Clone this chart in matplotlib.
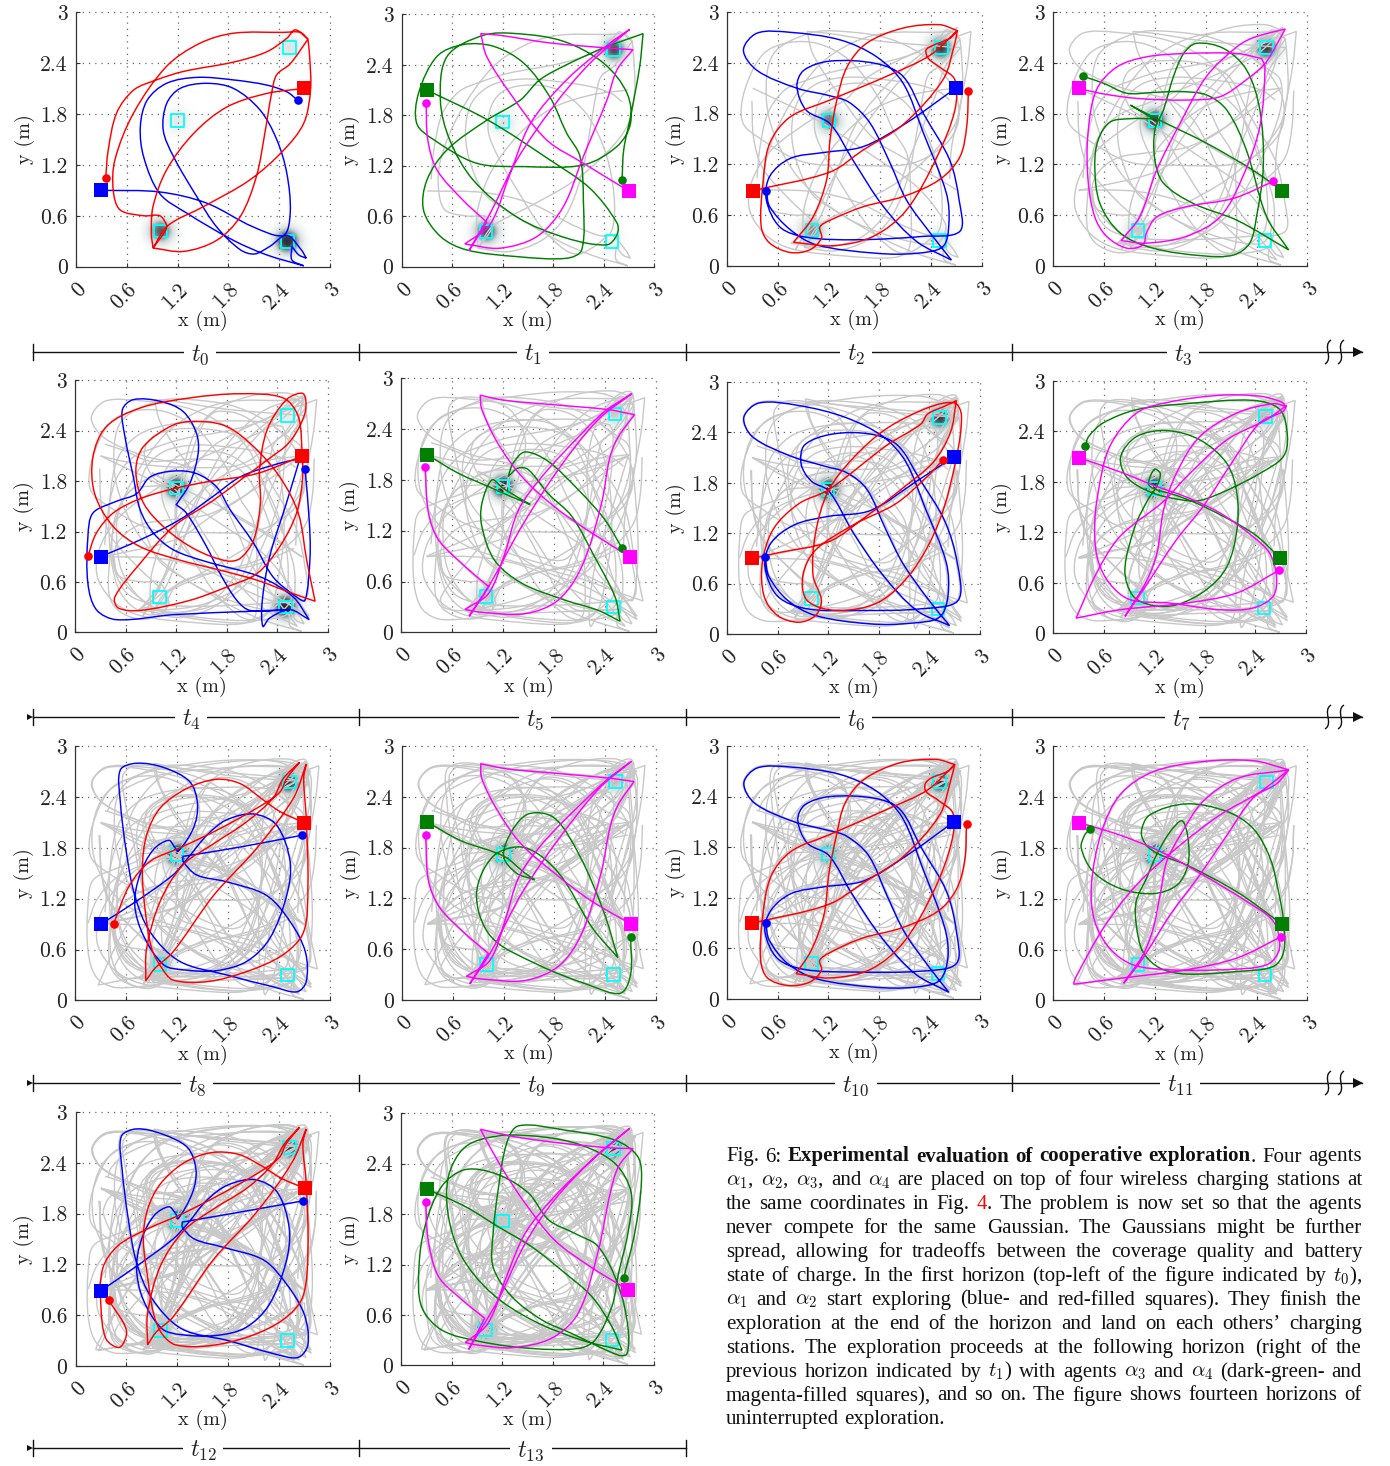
"""
Fourteen exploration horizons, two agents per horizon. Earlier flights stay on
as grey curves, the stations show their remaining Gaussians. Caption on the right.
"""

import numpy as np
import matplotlib
matplotlib.use("Agg")
import matplotlib.pyplot as plt
from matplotlib.colors import LinearSegmentedColormap
from matplotlib.patches import PathPatch
from matplotlib.path import Path

plt.rcParams["mathtext.fontset"] = "cm"

W_PX, H_PX = 1390, 1466

# -- Flight paths in metres. A repeated point is a cusp ---
BLUE_T0 = [(0.30,0.90),(0.99,0.88),(1.54,0.75),(2.09,0.47),(2.45,0.37),(2.53,0.63),(2.49,1.10),(2.37,1.50),
           (2.17,1.85),(1.86,2.10),(1.54,2.16),(1.23,2.10),(1.07,1.92),(1.03,1.61),(1.15,1.30),(1.43,0.82),
           (1.66,0.47),(1.94,0.20),(2.11,0.15),(2.29,0.24),(2.49,0.37),(2.66,0.20),(2.72,0.10),(2.72,0.10),
           (2.63,0.14),(2.55,0.24),(2.55,0.24),(2.55,0.08),(2.69,0.01),(2.69,0.01),(2.25,0.14),(1.86,0.31),
           (1.31,0.63),(0.99,0.86),(0.80,1.29),(0.76,1.65),(0.84,1.96),(1.07,2.16),(1.43,2.23),(1.86,2.20),
           (2.25,2.14),(2.49,2.06),(2.62,1.96)]
RED_T0 = [(2.69,2.10),(2.25,2.04),(1.78,1.88),(1.39,1.57),(1.07,1.14),(0.91,0.71),(0.89,0.39),(0.91,0.22),
          (0.91,0.22),(1.08,0.48),(1.51,0.71),(2.05,1.02),(2.45,1.37),(2.69,1.69),(2.77,2.08),(2.76,2.47),
          (2.74,2.68),(2.74,2.68),(2.53,2.39),(2.37,2.26),(2.31,2.04),(2.23,1.57),(2.13,1.06),(1.94,0.59),
          (1.66,0.31),(1.27,0.18),(0.91,0.22),(0.91,0.22),(1.06,0.43),(1.07,0.49),(0.99,0.60),(0.80,0.60),
          (0.52,0.67),(0.44,0.90),(0.46,1.26),(0.68,1.81),(1.07,2.36),(1.46,2.63),(1.86,2.75),(2.45,2.76),
          (2.65,2.76),(2.74,2.68),(2.74,2.68),(2.59,2.79),(2.49,2.69),(2.25,2.53),(1.86,2.41),(1.27,2.30),
          (0.95,2.20),(0.68,2.08),(0.48,1.81),(0.38,1.37),(0.35,1.04)]

GREEN_T1 = [(0.30,2.10),(1.03,1.74),(1.76,1.27),(2.24,0.93),(2.56,0.52),(2.56,0.38),(2.44,0.26),(1.96,0.34),
            (1.37,0.59),(0.85,1.03),(0.57,1.51),(0.46,1.98),(0.54,2.50),(0.97,2.75),(1.37,2.77),(1.92,2.68),
            (2.40,2.42),(2.68,2.06),(2.72,1.70),(2.56,1.43),(2.16,1.21),(1.45,1.19),(0.89,1.23),(0.38,1.51),
            (0.18,1.70),(0.20,2.06),(0.42,2.50),(0.73,2.64),(1.09,2.62),(1.45,2.42),(1.76,2.02),(1.96,1.59),
            (2.12,1.31),(2.16,0.79),(2.14,0.20),(1.96,0.10),(1.37,0.12),(0.77,0.20),(0.46,0.36),(0.26,0.67),
            (0.30,1.03),(0.54,1.39),(1.01,1.74),(1.41,1.98),(1.64,2.22),(1.96,2.40),(2.40,2.60),(2.87,2.77),
            (2.87,2.77),(2.83,2.38),(2.72,1.78),(2.64,1.39),(2.62,1.03)]
MAGENTA_T1 = [(2.70,0.90),(2.16,1.23),(1.72,1.51),(1.29,2.06),(1.01,2.50),(0.94,2.77),(0.94,2.77),(1.17,2.75),
              (1.76,2.66),(2.44,2.60),(2.75,2.58),(2.75,2.58),(2.56,2.34),(2.44,1.98),(2.16,1.31),(1.92,0.71),
              (1.61,0.36),(1.17,0.22),(0.75,0.27),(0.75,0.27),(1.05,0.50),(1.29,1.11),(1.53,1.70),(1.96,2.22),
              (2.48,2.66),(2.71,2.82),(2.71,2.82),(2.24,2.42),(1.80,1.90),(1.37,1.27),(1.05,0.63),(0.80,0.19),
              (0.80,0.19),(1.01,0.53),(1.01,0.53),(0.73,0.79),(0.42,1.15),(0.31,1.51),(0.29,1.95)]

BLUE_T2 = [(2.69,2.10),(2.11,1.69),(1.60,1.41),(1.13,1.34),(0.74,1.27),(0.50,1.06),(0.46,0.78),(0.62,0.46),
           (0.93,0.34),(1.52,0.31),(2.31,0.35),(2.74,0.41),(2.73,0.78),(2.62,1.25),(2.31,1.80),(2.07,2.24),
           (1.76,2.39),(1.21,2.42),(0.90,2.31),(0.82,2.12),(0.93,1.84),(1.21,1.68),(1.48,1.25),(1.84,0.70),
           (2.23,0.29),(2.64,0.07),(2.64,0.07),(2.39,0.39),(2.11,0.78),(1.92,1.21),(1.68,1.69),(1.44,1.93),
           (1.21,2.01),(0.82,2.10),(0.35,2.31),(0.19,2.55),(0.35,2.75),(0.74,2.76),(1.33,2.67),(1.76,2.47),
           (2.07,2.16),(2.31,1.57),(2.58,0.86),(2.61,0.50),(2.54,0.23),(2.23,0.15),(1.76,0.15),(1.05,0.25),
           (0.74,0.43),(0.50,0.70),(0.46,0.89)]
RED_T2 = [(0.30,0.89),(1.21,1.11),(1.60,1.37),(2.07,1.67),(2.54,2.20),(2.68,2.63),(2.71,2.78),(2.71,2.78),
          (2.50,2.85),(2.07,2.81),(1.64,2.63),(1.41,2.35),(1.29,1.96),(1.21,1.49),(1.17,1.02),(1.01,0.58),
          (0.78,0.28),(0.78,0.28),(1.25,0.24),(1.72,0.35),(2.11,0.66),(2.47,1.29),(2.68,1.84),(2.68,2.20),
          (2.50,2.35),(2.37,2.45),(2.34,2.55),(2.41,2.60),(2.62,2.69),(2.71,2.78),(2.71,2.78),(2.39,2.49),
          (1.92,2.26),(1.21,1.96),(0.74,1.76),(0.50,1.45),(0.42,0.98),(0.40,0.46),(0.50,0.27),(0.74,0.16),
          (0.97,0.19),(1.11,0.33),(1.09,0.46),(1.21,0.54),(1.60,0.70),(2.07,0.82),(2.50,1.02),(2.74,1.29),
          (2.82,1.65),(2.84,2.07)]

GREEN_T3 = [(2.70,0.89),(2.36,1.13),(1.81,1.45),(1.24,1.73),(0.91,1.90),(0.91,1.90),(1.18,1.74),(1.18,1.74),
            (0.91,1.74),(0.67,1.70),(0.53,1.49),(0.49,1.18),(0.55,0.74),(0.79,0.39),(1.18,0.21),(1.77,0.12),
            (2.13,0.13),(2.32,0.27),(2.40,0.58),(2.48,1.17),(2.44,1.84),(2.28,2.32),(2.01,2.57),(1.69,2.63),
            (1.54,2.51),(1.42,2.24),(1.30,1.84),(1.20,1.61),(1.20,1.25),(1.30,0.98),(1.65,0.74),(2.17,0.54),
            (2.78,0.19),(2.78,0.19),(2.52,0.58),(2.28,1.37),(2.05,1.84),(1.81,2.02),(1.50,2.06),(1.18,2.05),
            (0.87,2.04),(0.59,2.16),(0.35,2.24)]
MAGENTA_T3 = [(0.30,2.10),(0.55,2.04),(0.98,1.98),(1.57,1.96),(1.97,2.00),(2.28,2.20),(2.50,2.39),(2.64,2.62),
              (2.74,2.80),(2.74,2.80),(2.37,2.70),(2.17,2.59),(1.81,2.24),(1.50,1.69),(1.22,1.13),(1.02,0.58),
              (0.80,0.30),(0.80,0.30),(1.10,0.27),(1.57,0.35),(1.97,0.58),(2.24,1.06),(2.44,1.65),(2.50,2.35),
              (2.46,2.45),(2.46,2.45),(2.17,2.51),(1.57,2.51),(1.10,2.47),(0.75,2.35),(0.51,2.08),(0.41,1.57),
              (0.41,1.02),(0.49,0.58),(0.63,0.35),(0.87,0.21),(1.06,0.25),(1.10,0.39),(1.22,0.58),(1.57,0.70),
              (2.13,0.80),(2.60,1.00)]

BLUE_T4 = [(0.30,0.90),(0.77,1.10),(1.24,1.34),(1.64,1.62),(1.96,1.85),(2.35,1.99),(2.67,2.07),(2.67,2.07),
           (2.51,1.54),(2.31,0.90),(2.22,0.35),(2.23,0.07),(2.31,0.17),(2.55,0.27),(2.78,0.15),(2.78,0.15),
           (2.59,0.42),(2.20,0.66),(1.56,0.84),(1.17,0.98),(0.93,1.18),(0.77,1.46),(0.69,1.85),(0.59,2.33),
           (0.56,2.65),(0.69,2.77),(1.01,2.75),(1.28,2.63),(1.44,2.37),(1.46,2.13),(1.36,1.77),(1.20,1.52),
           (1.20,1.52),(1.32,1.42),(1.56,1.02),(1.72,0.70),(1.92,0.38),(2.08,0.26),(2.55,0.27),(2.55,0.27),
           (2.08,0.25),(1.17,0.21),(0.49,0.15),(0.25,0.27),(0.15,0.58),(0.15,1.14),(0.21,1.42),(0.49,1.56),
           (0.73,1.65),(0.89,1.85),(1.17,1.92),(1.44,1.89),(1.68,1.73),(1.84,1.46),(2.12,1.06),(2.35,0.66),
           (2.63,0.42),(2.73,0.38),(2.79,0.90),(2.78,1.34),(2.73,1.95)]
RED_T4 = [(2.70,2.10),(2.70,1.81),(2.63,1.42),(2.43,1.02),(2.16,0.70),(1.80,0.54),(1.36,0.38),(0.77,0.26),
          (0.51,0.29),(0.47,0.42),(0.77,0.82),(1.17,1.26),(1.64,1.57),(1.96,1.81),(2.28,2.05),(2.55,2.27),
          (2.73,2.61),(2.71,2.84),(2.51,2.77),(2.28,2.41),(2.19,1.93),(2.20,1.54),(2.12,1.10),(1.96,0.88),
          (1.80,0.85),(1.44,0.98),(1.09,1.22),(0.81,1.54),(0.72,1.93),(0.81,2.21),(1.17,2.47),(1.48,2.51),
          (1.80,2.45),(2.12,2.21),(2.43,1.85),(2.65,1.42),(2.75,0.86),(2.85,0.37),(2.85,0.37),(2.59,0.46),
          (2.16,0.62),(1.72,0.74),(1.24,0.86),(0.77,1.02),(0.45,1.26),(0.23,1.65),(0.21,2.09),(0.37,2.45),
          (0.77,2.67),(1.36,2.79),(1.96,2.84),(2.47,2.79),(2.65,2.57),(2.70,2.10),(2.70,2.10),(2.16,1.89),
          (1.56,1.79),(1.17,1.71),(0.77,1.59),(0.45,1.42),(0.25,1.18),(0.15,0.91)]

GREEN_T5 = [(0.30,2.10),(0.67,1.88),(1.03,1.72),(1.30,1.60),(1.52,1.51),(1.52,1.51),(1.20,1.70),(1.07,1.80),
            (0.95,1.52),(0.95,1.25),(1.10,0.85),(1.42,0.58),(1.93,0.38),(2.32,0.26),(2.58,0.13),(2.58,0.13),
            (2.52,0.42),(2.28,0.89),(2.01,1.37),(1.73,1.64),(1.50,1.92),(1.38,1.94),(1.26,1.84),(1.26,1.84),
            (1.32,2.00),(1.46,2.13),(1.73,2.02),(2.09,1.68),(2.40,1.33),(2.60,1.00)]
MAGENTA_T5 = [(2.70,0.89),(2.25,1.17),(1.81,1.48),(1.42,1.84),(1.14,2.23),(0.95,2.63),(0.93,2.80),(0.93,2.80),
              (1.22,2.74),(1.77,2.69),(2.44,2.63),(2.75,2.57),(2.75,2.57),(2.56,2.31),(2.46,2.07),(2.36,1.52),
              (2.13,0.78),(1.85,0.38),(1.46,0.22),(0.91,0.24),(0.75,0.27),(0.75,0.27),(1.03,0.46),(1.22,0.93),
              (1.38,1.44),(1.66,1.84),(2.13,2.35),(2.40,2.61),(2.72,2.82),(2.72,2.82),(2.32,2.51),(1.85,1.92),
              (1.42,1.25),(1.03,0.54),(0.80,0.19),(0.80,0.19),(1.03,0.54),(1.03,0.54),(0.75,0.78),(0.44,1.09),
              (0.32,1.41),(0.28,1.95)]

BLUE_T6 = [(2.69,2.11),(2.25,1.82),(1.70,1.47),(1.20,1.40),(0.80,1.30),(0.52,1.08),(0.45,0.80),(0.60,0.45),
           (0.95,0.30),(1.60,0.28),(2.30,0.30),(2.74,0.40),(2.73,0.85),(2.58,1.35),(2.28,1.85),(2.02,2.25),
           (1.70,2.38),(1.25,2.38),(0.92,2.25),(0.88,2.02),(1.00,1.82),(1.21,1.70),(1.50,1.20),(1.85,0.70),
           (2.25,0.28),(2.64,0.10),(2.64,0.10),(2.38,0.42),(2.08,0.85),(1.88,1.25),(1.66,1.72),(1.42,1.92),
           (1.15,2.00),(0.75,2.12),(0.30,2.35),(0.20,2.58),(0.38,2.75),(0.85,2.72),(1.40,2.58),(1.85,2.35),
           (2.12,2.05),(2.35,1.50),(2.60,0.85),(2.62,0.45),(2.52,0.20),(2.20,0.13),(1.70,0.12),(1.05,0.22),
           (0.72,0.40),(0.50,0.68),(0.45,0.92)]
RED_T6 = [(0.30,0.90),(0.62,0.97),(1.21,1.10),(1.65,1.40),(2.10,1.75),(2.45,2.05),(2.65,2.40),(2.72,2.78),
          (2.72,2.78),(2.60,2.72),(2.38,2.62),(2.30,2.50),(1.90,2.25),(1.21,1.72),(0.85,1.55),(0.55,1.25),
          (0.42,0.85),(0.44,0.45),(0.60,0.22),(0.85,0.14),(1.05,0.22),(1.12,0.40),(1.02,0.70),(1.05,1.20),
          (1.20,1.70),(1.50,2.10),(1.90,2.45),(2.40,2.70),(2.70,2.75),(2.78,2.60),(2.72,2.10),(2.52,1.35),
          (2.20,0.75),(1.80,0.38),(1.30,0.28),(0.95,0.40),(0.90,0.70),(1.05,1.00),(1.50,1.30),(2.00,1.55),
          (2.35,1.85),(2.56,2.07)]

GREEN_T7 = [(2.69,0.90),(2.37,1.19),(1.78,1.51),(1.46,1.64),(1.19,1.72),(1.13,1.78),(1.20,1.95),(1.27,1.90),
            (1.23,1.75),(1.13,1.60),(0.97,1.27),(0.85,0.75),(0.95,0.44),(1.19,0.33),(1.47,0.34),(1.82,0.52),
            (2.06,0.79),(2.18,1.23),(2.18,1.66),(2.06,2.02),(1.74,2.30),(1.35,2.41),(0.99,2.34),(0.80,2.10),
            (0.87,1.86),(1.15,1.68),(1.50,1.59),(1.74,1.58),(2.06,1.70),(2.45,1.90),(2.73,2.10),(2.78,2.34),
            (2.69,2.66),(2.37,2.77),(1.58,2.73),(0.99,2.66),(0.59,2.50),(0.42,2.34),(0.38,2.23)]
MAGENTA_T7 = [(0.30,2.09),(0.79,1.92),(1.19,1.76),(1.58,1.62),(1.98,1.43),(2.37,1.15),(2.57,0.95),(2.65,0.67),
              (2.61,0.44),(2.37,0.30),(1.98,0.28),(1.38,0.36),(0.91,0.40),(0.67,0.59),(0.53,0.87),(0.49,1.23),
              (0.53,1.66),(0.67,2.22),(0.99,2.62),(1.38,2.75),(1.98,2.83),(2.45,2.82),(2.71,2.75),(2.76,2.70),
              (2.76,2.70),(2.61,2.73),(2.18,2.62),(1.74,2.34),(1.46,1.90),(1.31,1.47),(1.23,0.95),(1.11,0.63),
              (0.85,0.20),(0.85,0.20),(1.07,0.52),(1.46,1.11),(1.78,1.51),(2.14,2.06),(2.45,2.50),(2.73,2.64),
              (2.77,2.71),(2.77,2.71),(2.53,2.54),(2.06,2.30),(1.58,1.86),(1.31,1.57),(0.79,1.15),(0.51,0.71),
              (0.27,0.18),(0.27,0.18),(0.79,0.28),(1.58,0.36),(2.18,0.48),(2.68,0.75)]

BLUE_T8 = [(0.30,0.90),(0.72,1.17),(1.15,1.48),(1.31,1.66),(1.55,1.95),(1.78,2.13),(2.10,2.20),(2.37,2.07),
           (2.53,1.64),(2.49,1.24),(2.29,0.73),(2.02,0.46),(1.66,0.35),(1.27,0.36),(1.04,0.42),(0.80,0.77),
           (0.70,1.13),(0.76,1.48),(0.92,1.78),(1.10,1.89),(1.17,1.81),(1.21,1.76),(1.39,2.03),(1.44,2.31),
           (1.35,2.58),(1.04,2.75),(0.72,2.80),(0.53,2.72),(0.53,2.35),(0.60,1.76),(0.70,1.24),(0.88,0.81),
           (1.23,0.46),(1.78,0.30),(2.33,0.16),(2.61,0.10),(2.72,0.22),(2.71,0.57),(2.53,0.93),(2.25,1.24),
           (1.78,1.40),(1.43,1.48),(1.27,1.64),(1.27,1.70),(1.27,1.70),(1.94,1.81),(2.67,1.95)]
RED_T8 = [(2.69,2.10),(2.41,2.23),(2.21,2.37),(1.94,2.56),(1.66,2.61),(1.31,2.50),(1.00,2.27),(0.84,1.95),
          (0.79,1.56),(0.82,1.09),(0.90,0.61),(1.02,0.38),(1.15,0.24),(1.55,0.22),(2.02,0.34),(2.45,0.54),
          (2.69,0.81),(2.74,1.36),(2.72,2.15),(2.69,2.62),(2.72,2.79),(2.72,2.79),(2.57,2.39),(2.14,1.80),
          (1.63,1.24),(1.15,0.57),(0.94,0.38),(0.83,0.23),(0.83,0.23),(0.84,0.61),(1.00,1.17),(1.27,1.60),
          (1.63,1.85),(2.02,2.11),(2.33,2.39),(2.45,2.62),(2.64,2.81),(2.64,2.81),(2.49,2.62),(2.41,2.46),
          (2.14,2.27),(1.63,1.99),(1.23,1.80),(0.88,1.64),(0.64,1.36),(0.45,0.90)]

GREEN_T9 = [(0.30,2.10),(0.70,1.88),(1.20,1.70),(1.45,1.50),(1.57,1.42),(1.57,1.42),(1.35,1.50),(1.20,1.70),
            (1.30,2.00),(1.50,2.20),(1.80,2.15),(2.10,1.70),(2.38,1.05),(2.55,0.50),(2.55,0.50),(2.25,0.85),
            (1.85,1.50),(1.45,1.80),(1.08,1.70),(0.88,1.25),(1.05,0.75),(1.60,0.42),(2.20,0.18),(2.58,0.08),
            (2.70,0.30),(2.70,0.75)]
MAGENTA_T9 = [(2.70,0.90),(2.22,1.18),(1.80,1.50),(1.40,1.85),(1.12,2.25),(0.94,2.62),(0.93,2.79),(0.93,2.79),
              (1.24,2.73),(1.78,2.68),(2.45,2.62),(2.74,2.58),(2.74,2.58),(2.55,2.30),(2.46,2.05),(2.35,1.50),
              (2.12,0.78),(1.85,0.40),(1.45,0.23),(0.92,0.25),(0.76,0.28),(0.76,0.28),(1.04,0.47),(1.22,0.95),
              (1.38,1.45),(1.66,1.85),(2.13,2.33),(2.42,2.60),(2.71,2.82),(2.71,2.82),(2.33,2.50),(1.85,1.90),
              (1.42,1.27),(1.04,0.55),(0.80,0.19),(0.80,0.19),(1.02,0.55),(1.02,0.55),(0.74,0.79),(0.44,1.10),
              (0.31,1.42),(0.28,1.95)]

BLUE_T10 = [(2.69,2.10),(2.13,1.70),(1.62,1.40),(1.15,1.33),(0.76,1.25),(0.52,1.05),(0.45,0.80),(0.60,0.48),
            (0.92,0.35),(1.50,0.32),(2.30,0.33),(2.72,0.42),(2.72,0.80),(2.60,1.28),(2.30,1.80),(2.05,2.25),
            (1.75,2.38),(1.22,2.40),(0.92,2.30),(0.84,2.12),(0.95,1.85),(1.21,1.70),(1.48,1.25),(1.84,0.72),
            (2.23,0.30),(2.63,0.08),(2.63,0.08),(2.38,0.40),(2.10,0.80),(1.90,1.22),(1.68,1.70),(1.42,1.93),
            (1.20,2.00),(0.80,2.10),(0.33,2.32),(0.20,2.56),(0.36,2.74),(0.76,2.75),(1.35,2.66),(1.78,2.46),
            (2.08,2.15),(2.32,1.55),(2.58,0.85),(2.62,0.50),(2.52,0.22),(2.22,0.14),(1.75,0.14),(1.06,0.24),
            (0.72,0.42),(0.50,0.70),(0.46,0.90)]
RED_T10 = [(0.30,0.90),(1.20,1.12),(1.62,1.38),(2.08,1.68),(2.52,2.18),(2.66,2.62),(2.70,2.78),(2.70,2.78),
           (2.48,2.84),(2.05,2.80),(1.62,2.60),(1.40,2.32),(1.30,1.95),(1.21,1.50),(1.15,1.00),(1.00,0.58),
           (0.82,0.30),(0.82,0.30),(1.22,0.25),(1.70,0.35),(2.10,0.68),(2.46,1.30),(2.66,1.85),(2.68,2.20),
           (2.50,2.36),(2.36,2.46),(2.35,2.55),(2.42,2.62),(2.62,2.70),(2.70,2.78),(2.70,2.78),(2.38,2.48),
           (1.90,2.25),(1.22,1.95),(0.76,1.75),(0.52,1.45),(0.42,0.95),(0.40,0.45),(0.48,0.25),(0.72,0.16),
           (0.98,0.20),(1.12,0.34),(1.10,0.46),(1.22,0.55),(1.60,0.72),(2.06,0.84),(2.50,1.04),(2.72,1.30),
           (2.82,1.65),(2.84,2.07)]

GREEN_T11 = [(2.70,0.90),(2.17,1.28),(1.57,1.60),(1.26,1.72),(1.10,1.83),(1.04,1.99),(1.14,2.19),(1.57,2.32),
             (2.05,2.23),(2.36,2.03),(2.56,1.68),(2.66,1.28),(2.72,0.93),(2.72,0.57),(2.60,0.40),(2.17,0.34),
             (1.57,0.31),(1.26,0.38),(1.06,0.57),(0.98,0.89),(0.98,1.17),(1.10,1.44),(1.22,1.72),(1.38,1.99),
             (1.52,2.12),(1.59,1.92),(1.59,1.60),(1.46,1.36),(1.18,1.26),(0.79,1.32),(0.47,1.52),(0.33,1.80),
             (0.37,1.95),(0.43,2.02)]
MAGENTA_T11 = [(0.30,2.10),(0.79,1.95),(1.26,1.76),(1.77,1.48),(2.28,1.17),(2.60,0.93),(2.67,0.61),(2.52,0.42),
               (1.97,0.36),(1.38,0.36),(0.94,0.42),(0.67,0.61),(0.49,0.93),(0.45,1.36),(0.57,1.99),(0.79,2.43),
               (1.18,2.70),(1.77,2.82),(2.36,2.83),(2.72,2.74),(2.78,2.72),(2.78,2.72),(2.17,2.62),(1.77,2.35),
               (1.50,1.95),(1.34,1.64),(1.26,1.24),(1.18,0.85),(1.06,0.54),(0.83,0.20),(0.83,0.20),(1.06,0.50),
               (1.38,1.01),(1.73,1.48),(2.05,1.95),(2.36,2.39),(2.64,2.56),(2.78,2.72),(2.78,2.72),(2.44,2.46),
               (1.97,2.19),(1.46,1.80),(0.98,1.36),(0.59,0.85),(0.26,0.26),(0.24,0.19),(0.24,0.19),(0.79,0.26),
               (1.57,0.36),(2.17,0.50),(2.69,0.75)]

BLUE_T12 = [(0.30,0.89),(0.72,1.18),(1.15,1.50),(1.32,1.68),(1.55,1.96),(1.80,2.14),(2.12,2.20),(2.38,2.05),
            (2.52,1.62),(2.48,1.22),(2.28,0.72),(2.00,0.45),(1.65,0.36),(1.25,0.37),(1.02,0.44),(0.80,0.78),
            (0.72,1.15),(0.78,1.50),(0.93,1.78),(1.10,1.88),(1.18,1.80),(1.21,1.74),(1.38,2.05),(1.42,2.32),
            (1.32,2.58),(1.02,2.74),(0.72,2.80),(0.54,2.71),(0.55,2.32),(0.62,1.75),(0.72,1.22),(0.90,0.80),
            (1.25,0.44),(1.80,0.30),(2.32,0.15),(2.62,0.10),(2.74,0.25),(2.70,0.60),(2.50,0.95),(2.22,1.25),
            (1.75,1.40),(1.40,1.50),(1.26,1.64),(1.26,1.70),(1.26,1.70),(1.95,1.82),(2.68,1.95)]
RED_T12 = [(2.70,2.10),(2.42,2.22),(2.20,2.36),(1.92,2.50),(1.60,2.52),(1.28,2.40),(1.00,2.15),(0.85,1.85),
           (0.80,1.50),(0.85,1.05),(0.92,0.62),(1.02,0.38),(1.18,0.25),(1.58,0.24),(2.05,0.35),(2.45,0.55),
           (2.68,0.82),(2.74,1.38),(2.72,2.15),(2.68,2.62),(2.72,2.80),(2.72,2.80),(2.55,2.40),(2.12,1.80),
           (1.62,1.25),(1.15,0.58),(0.95,0.40),(0.85,0.25),(0.85,0.25),(0.85,0.62),(1.00,1.18),(1.28,1.60),
           (1.62,1.85),(2.02,2.10),(2.32,2.38),(2.46,2.62),(2.64,2.82),(2.64,2.82),(2.48,2.62),(2.40,2.46),
           (2.12,2.26),(1.62,1.98),(1.22,1.78),(0.85,1.62),(0.50,1.42),(0.32,1.15),(0.30,0.70),(0.36,0.32),
           (0.52,0.22),(0.60,0.42),(0.39,0.78)]

GREEN_T13 = [(0.30,2.10),(0.76,1.89),(1.15,1.65),(1.55,1.41),(1.94,1.10),(2.26,0.82),(2.50,0.46),(2.62,0.18),
             (2.62,0.18),(2.14,0.30),(1.55,0.54),(1.07,0.86),(0.72,1.29),(0.56,1.77),(0.56,2.25),(0.76,2.60),
             (1.15,2.73),(1.67,2.72),(2.14,2.62),(2.54,2.40),(2.73,2.05),(2.69,1.57),(2.58,1.10),(2.50,0.70),
             (2.30,0.30),(2.10,0.20),(1.55,0.20),(0.95,0.28),(0.48,0.42),(0.24,0.70),(0.21,1.17),(0.28,1.65),
             (0.48,2.13),(0.76,2.33),(1.15,2.27),(1.51,2.05),(1.75,1.73),(2.06,1.57),(2.34,1.41),(2.58,0.94),
             (2.69,0.46),(2.68,0.14),(2.58,0.12),(2.02,0.38),(1.67,0.54),(1.31,0.82),(1.09,1.17),(1.09,1.57),
             (1.15,2.09),(1.25,2.64),(1.39,2.85),(1.94,2.80),(2.54,2.68),(2.81,2.48),(2.85,2.17),(2.77,1.57),
             (2.64,1.04)]
MAGENTA_T13 = [(2.69,0.90),(2.25,1.17),(1.82,1.49),(1.47,1.93),(1.23,2.29),(1.03,2.64),(0.94,2.81),(0.94,2.81),
               (1.35,2.72),(1.94,2.64),(2.46,2.59),(2.75,2.58),(2.75,2.58),(2.58,2.37),(2.48,2.05),(2.34,1.37),
               (2.10,0.62),(1.78,0.32),(1.31,0.21),(0.91,0.24),(0.76,0.27),(0.76,0.27),(1.03,0.50),(1.25,1.06),
               (1.47,1.57),(1.82,2.01),(2.26,2.44),(2.71,2.82),(2.71,2.82),(2.30,2.48),(1.82,1.97),(1.47,1.45),
               (1.15,0.78),(0.80,0.19),(0.80,0.19),(0.99,0.56),(0.99,0.56),(0.72,0.78),(0.44,1.06),(0.32,1.49),
               (0.29,1.95)]

COLOUR_BLUE, COLOUR_RED = "#0000ff", "#ff0000"
COLOUR_GREEN, COLOUR_MAGENTA = "#007f00", "#ff00ff"

HORIZONS = [
    [(BLUE_T0, COLOUR_BLUE), (RED_T0, COLOUR_RED)],
    [(GREEN_T1, COLOUR_GREEN), (MAGENTA_T1, COLOUR_MAGENTA)],
    [(BLUE_T2, COLOUR_BLUE), (RED_T2, COLOUR_RED)],
    [(GREEN_T3, COLOUR_GREEN), (MAGENTA_T3, COLOUR_MAGENTA)],
    [(BLUE_T4, COLOUR_BLUE), (RED_T4, COLOUR_RED)],
    [(GREEN_T5, COLOUR_GREEN), (MAGENTA_T5, COLOUR_MAGENTA)],
    [(BLUE_T6, COLOUR_BLUE), (RED_T6, COLOUR_RED)],
    [(GREEN_T7, COLOUR_GREEN), (MAGENTA_T7, COLOUR_MAGENTA)],
    [(BLUE_T8, COLOUR_BLUE), (RED_T8, COLOUR_RED)],
    [(GREEN_T9, COLOUR_GREEN), (MAGENTA_T9, COLOUR_MAGENTA)],
    [(BLUE_T10, COLOUR_BLUE), (RED_T10, COLOUR_RED)],
    [(GREEN_T11, COLOUR_GREEN), (MAGENTA_T11, COLOUR_MAGENTA)],
    [(BLUE_T12, COLOUR_BLUE), (RED_T12, COLOUR_RED)],
    [(GREEN_T13, COLOUR_GREEN), (MAGENTA_T13, COLOUR_MAGENTA)],
]

# -- Stations and how dark each one still is per horizon ------------------------
STATION_X = [1.00, 2.50, 2.52, 1.20]
STATION_Y = [0.42, 0.30, 2.58, 1.72]
GAUSS_WEIGHT = [
    [0.65, 0.85, 0.20, 0.15], [0.70, 0.08, 0.70, 0.20], [0.50, 0.20, 0.75, 0.55],
    [0.30, 0.08, 0.75, 0.80], [0.08, 0.90, 0.15, 0.85], [0.30, 0.10, 0.30, 0.90],
    [0.15, 0.15, 0.75, 0.90], [0.10, 0.05, 0.40, 0.95], [0.50, 0.10, 0.80, 0.95],
    [0.25, 0.10, 0.35, 0.85], [0.50, 0.15, 0.80, 0.70], [0.10, 0.05, 0.30, 0.95],
    [0.50, 0.05, 0.75, 0.95], [0.85, 0.10, 0.80, 0.40],
]
GAUSS_CMAP = LinearSegmentedColormap.from_list(
    "gauss", ["#ffffff", "#d3dddd", "#7c8a8e", "#3a3c44", "#1c1c24"])

TICKS = [0, 0.6, 1.2, 1.8, 2.4, 3]
TICK_LABELS = ["0", "0.6", "1.2", "1.8", "2.4", "3"]

# panel boxes in picture pixels: left, right, top, bottom
PANEL_BOX = [
    (76.0, 330.0, 12.0, 266.7), (401.7, 654.0, 14.3, 266.7), (727.3, 982.0, 12.0, 266.0), (1053.3, 1307.3, 12.0, 266.0),
    (75.3, 327.7, 380.3, 632.3), (401.3, 655.7, 378.3, 632.3), (727.0, 980.0, 382.0, 634.0), (1053.3, 1306.0, 381.0, 633.3),
    (75.3, 330.0, 746.3, 1000.3), (402.0, 656.0, 746.0, 1000.0), (727.0, 980.0, 746.0, 999.0), (1053.3, 1307.3, 746.3, 1000.3),
    (75.5, 330.0, 1112.0, 1366.0), (401.3, 654.0, 1113.3, 1365.3),
]

# -- Time line under each row -------------------------------------------------
ROW_Y = [352, 717, 1083, 1448]
ROW_TICK_X = [33, 359, 686, 1012]
LABEL_X = [200, 533, 856, 1183, 191, 535, 856, 1182, 197, 536, 856, 1180, 203, 531]

CAPTION = [
    "Fig. 6: *Experimental *evaluation *of *cooperative *exploration|. Four agents",
    "$\\alpha_1$, $\\alpha_2$, $\\alpha_3$, and $\\alpha_4$ are placed on top of four wireless charging stations at",
    "the same coordinates in Fig. ^4|. The problem is now set so that the agents",
    "never compete for the same Gaussian. The Gaussians might be further",
    "spread, allowing for tradeoffs between the coverage quality and battery",
    "state of charge. In the first horizon (top-left of the figure indicated by $t_0$),",
    "$\\alpha_1$ and $\\alpha_2$ start exploring (blue- and red-filled squares). They finish the",
    "exploration at the end of the horizon and land on each others\u2019 charging",
    "stations. The exploration proceeds at the following horizon (right of the",
    "previous horizon indicated by $t_1$) with agents $\\alpha_3$ and $\\alpha_4$ (dark-green- and",
    "magenta-filled squares), and so on. The figure shows fourteen horizons of",
    "uninterrupted exploration.",
]


def spline_path(points):
    """Smooth curve through the read points; a repeated point breaks the tangent."""
    pts = np.asarray(points, dtype=float)
    same = np.all(pts[1:] == pts[:-1], axis=1)
    pieces = np.split(pts, np.where(same)[0] + 1)
    verts, codes = [pts[0]], [Path.MOVETO]
    for p in pieces:
        if len(p) < 2:
            continue
        d = np.linalg.norm(np.diff(p, axis=0), axis=1)
        tan = np.zeros_like(p)
        tan[0] = (p[1] - p[0]) / d[0]
        tan[-1] = (p[-1] - p[-2]) / d[-1]
        for i in range(1, len(p) - 1):
            tan[i] = (p[i + 1] - p[i - 1]) / (d[i - 1] + d[i])
        for i in range(len(p) - 1):
            verts += [p[i] + tan[i] * d[i] / 3, p[i + 1] - tan[i + 1] * d[i] / 3, p[i + 1]]
            codes += [Path.CURVE4] * 3
    return Path(np.array(verts), codes)


fig = plt.figure(figsize=(W_PX / 100, H_PX / 100), dpi=100)

xx, yy = np.meshgrid(np.linspace(0, 3, 300), np.linspace(0, 3, 300))
flown = []  # paths of the earlier horizons

for k, agents in enumerate(HORIZONS):
    left, right, top, bottom = PANEL_BOX[k]
    ax = fig.add_axes([left / W_PX, 1 - bottom / H_PX,
                       (right - left) / W_PX, (bottom - top) / H_PX])
    ax.set_xlim(0, 3)
    ax.set_ylim(0, 3)

    # -- Gaussians ------------------------------------------------------------
    field = np.zeros_like(xx)
    for sx, sy, amp in zip(STATION_X, STATION_Y, GAUSS_WEIGHT[k]):
        field += amp * np.exp(-((xx - sx) ** 2 + (yy - sy) ** 2) / (2 * 0.10 ** 2))
    ax.imshow(field, extent=(0, 3, 0, 3), origin="lower", aspect="auto",
              cmap=GAUSS_CMAP, vmin=0, vmax=1, zorder=0, interpolation="bilinear")

    # -- Frame: solid left and bottom, dotted grid everywhere else ------------
    for tick in TICKS[1:]:
        ax.axvline(tick, color="#666666", lw=0.9, ls=(0, (1, 4)), zorder=1, clip_on=False)
        ax.axhline(tick, color="#666666", lw=0.9, ls=(0, (1, 4)), zorder=1, clip_on=False)
    ax.spines["top"].set_visible(False)
    ax.spines["right"].set_visible(False)
    ax.spines["left"].set_color("#333333")
    ax.spines["bottom"].set_color("#333333")
    ax.spines["left"].set_linewidth(0.9)
    ax.spines["bottom"].set_linewidth(0.9)
    ax.set_xticks(TICKS)
    ax.set_yticks(TICKS)
    ax.set_yticklabels(TICK_LABELS, family="cmr10", fontsize=15.5, color="#222222")
    ax.set_xticklabels(TICK_LABELS, family="cmr10", fontsize=15.5, color="#222222",
                       rotation=45, ha="right", va="top", rotation_mode="anchor")
    ax.tick_params(axis="both", direction="in", length=3, width=0.8, color="#333333")
    ax.tick_params(axis="x", pad=9)
    ax.tick_params(axis="y", pad=6)
    ax.set_xlabel("x (m)", family="cmr10", fontsize=14.5, color="#222222", labelpad=-1)
    ax.set_ylabel("y (m)", family="cmr10", fontsize=14.5, color="#222222", labelpad=4)

    # -- Curves ---------------------------------------------------------------
    for path in flown:
        ax.add_patch(PathPatch(path, fill=False, ec="#c8c8c8", lw=1.0, zorder=2))

    ax.scatter(STATION_X, STATION_Y, marker="s", s=82, facecolors="none",
               edgecolors="#00ffff", linewidths=1.3, zorder=3)

    for pts, colour in agents:
        path = spline_path(pts)
        ax.add_patch(PathPatch(path, fill=False, ec=colour, lw=1.05, zorder=4, clip_on=False))
        ax.plot(pts[0][0], pts[0][1], marker="s", ms=9.5, color=colour, mew=0, zorder=5, clip_on=False)
        ax.plot(pts[-1][0], pts[-1][1], marker="o", ms=6.2, color=colour, mew=0, zorder=5, clip_on=False)
    for pts, _ in agents:
        flown.append(spline_path(pts))

# -- Overlay in picture pixels: time lines and caption --------------------------
over = fig.add_axes([0, 0, 1, 1], zorder=10)
over.set_xlim(0, W_PX)
over.set_ylim(H_PX, 0)
over.axis("off")

for row, y in enumerate(ROW_Y):
    last = row == len(ROW_Y) - 1
    end = 686 if last else 1362
    over.plot([33, end], [y, y], color="#111111", lw=1.0)
    ticks = ROW_TICK_X[:3] if last else ROW_TICK_X
    for x in ticks:
        over.plot([x, x], [y - 8, y + 8], color="#111111", lw=1.0)
    if row > 0:
        over.plot(30, y, marker=">", ms=5, color="#111111", mew=0)
    if last:
        continue
    over.plot(1358, y, marker=">", ms=7, color="#111111", mew=0)
    # break marks on the running arrow
    for x in (1328, 1341):
        s = Path([(x + 3, y - 12), (x - 6, y - 6), (x + 6, y + 6), (x - 3, y + 12)],
                 [Path.MOVETO, Path.CURVE4, Path.CURVE4, Path.CURVE4])
        over.add_patch(PathPatch(s, fill=False, ec="#111111", lw=1.0, zorder=3))

for k, x in enumerate(LABEL_X):
    over.text(x, ROW_Y[k // 4] + 3, f"$t_{{{k}}}$", fontsize=17.5, ha="center", va="center", color="#222222",
              bbox=dict(fc="white", ec="none", pad=5), zorder=2)

# justified caption, one word at a time
CAP_LEFT, CAP_RIGHT = 726, 1362
CAP_Y0, CAP_STEP = 1161.5, 23.9
renderer = fig.canvas.get_renderer()


def piece_props(piece):
    props = dict(family="Liberation Serif", fontsize=15.0, color="#111111")
    if piece.startswith("*"):
        props["weight"] = "bold"
        piece = piece[1:]
    elif piece.startswith("^"):
        props["color"] = "#ff0000"
        piece = piece[1:]
    return piece, props


for n, line in enumerate(CAPTION):
    y = CAP_Y0 + n * CAP_STEP
    placed = []
    for word in line.split(" "):
        group = []
        for piece in word.split("|"):
            txt, props = piece_props(piece)
            t = over.text(0, y, txt, va="baseline", ha="left", **props)
            group.append((t, t.get_window_extent(renderer).width))
        placed.append(group)
    total = sum(w for group in placed for _, w in group)
    last_line = n == len(CAPTION) - 1
    gap = 5 if last_line else (CAP_RIGHT - CAP_LEFT - total) / (len(placed) - 1)
    x = CAP_LEFT
    for group in placed:
        for t, w in group:
            t.set_x(x)
            x += w
        x += gap

fig.savefig("out.png", dpi=100)
